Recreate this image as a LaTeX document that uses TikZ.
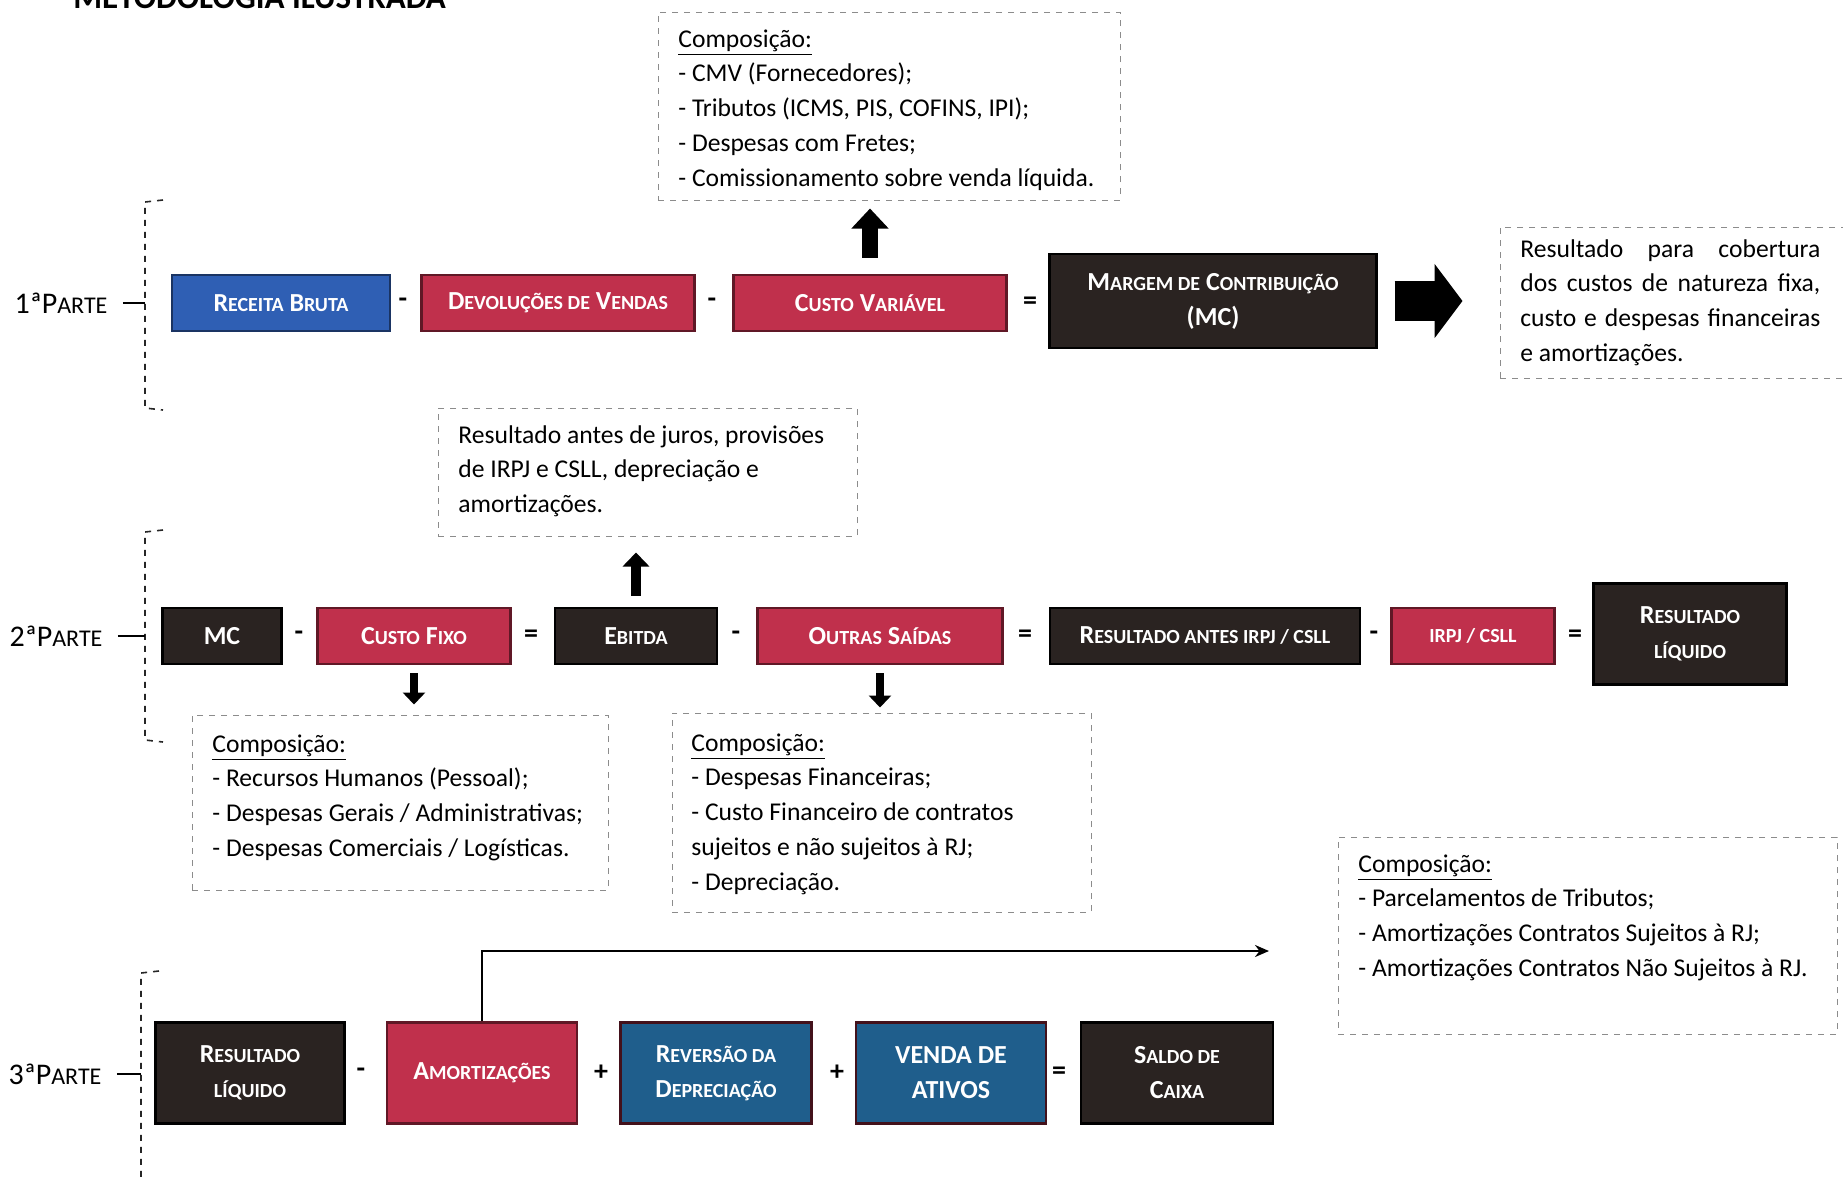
\documentclass[tikz,border=0pt]{standalone}
\usepackage{fontspec}
\setmainfont{Carlito}
\usepackage{relsize}
\usepackage{xcolor}
\usepackage{tikz}
\usetikzlibrary{arrows.meta, positioning}
\definecolor{rbblue}{HTML}{2F5FB4}
\definecolor{crimson}{HTML}{C0304C}
\definecolor{darkbrown}{HTML}{2A2321}
\definecolor{seablue}{HTML}{1F5E8C}
\newcommand{\sm}[1]{{\relscale{0.78}#1}}
\tikzset{
    box/.style={rectangle, draw, line width=1.2pt, text=white, align=center, inner sep=2pt,
        minimum height=28pt, font=\bfseries\fontsize{13}{17.5}\selectfont},
    bluebox/.style={box, fill=rbblue, draw=rbblue!55!black},
    redbox/.style={box, fill=crimson, draw=crimson!50!black},
    darkbox/.style={box, fill=darkbrown, draw=black},
    seabox/.style={box, fill=seablue, draw=crimson!35!black},
    dashbox/.style={rectangle, draw=black!45, dashed, line width=0.5pt, inner sep=0pt},
    txt/.style={anchor=north west, inner sep=0pt, align=left, font=\fontsize{12.8}{17.4}\selectfont},
    part/.style={inner sep=0pt, font=\fontsize{15}{17}\selectfont},
    op/.style={inner sep=0pt, font=\bfseries\fontsize{14}{16}\selectfont},
    bracket/.style={dashed, line width=0.8pt, black!85},
    thinarrow/.style={-{Stealth[length=7pt, width=6pt]}, line width=1.3pt}
}

\begin{document}
\begin{tikzpicture}[x=0.5pt, y=-0.5pt]
    \useasboundingbox (0,0) rectangle (1843,1180);
    \node[anchor=base west, inner sep=0pt, font=\bfseries\fontsize{16.5}{18}\selectfont] (title) at (73,8) {METODOLOGIA ILUSTRADA};

    % 1a parte
    \node[part] (p1) at (61,303) {1ªP\sm{ARTE}};
    \coordinate (b1t) at (145,202);
    \coordinate (b1b) at (145,408);
    \draw[bracket] (163,200) -- (b1t) -- (b1b) -- (163,410);
    \draw[line width=0.8pt, shorten <=7.5pt] (p1.east) -- (b1t |- p1.east);

    \node[bluebox, minimum width=109pt] (rb) at (281,303) {R\sm{ECEITA} B\sm{RUTA}};
    \node[redbox, minimum width=136.5pt] (dv) at (558,303) {D\sm{EVOLUÇÕES DE} V\sm{ENDAS}};
    \node[redbox, minimum width=136.5pt] (cv) at (870,303) {C\sm{USTO} V\sm{ARIÁVEL}};
    \node[darkbox, minimum width=163.5pt, minimum height=47pt] (mc) at (1213,301) {M\sm{ARGEM DE} C\sm{ONTRIBUIÇÃO}\\(MC)};
    \node[op] (o11) at (403,303) {-};
    \node[op] (o12) at (712,303) {-};
    \node[op] (o13) at (1030,303) {=};

    \node[dashbox, minimum width=231pt, minimum height=94pt] (cvbox) at (889,106) {};
    \node[txt] (cvtxt) at (678,29) {\underline{Composição:}\\- CMV (Fornecedores);\\- Tributos (ICMS, PIS, COFINS, IPI);\\- Despesas com Fretes;\\- Comissionamento sobre venda líquida.};
    \draw[line width=8pt, -{Triangle[width=18pt, length=10pt]}, shorten <=8pt, shorten >=4pt] (cv.north) -- (cv.north |- cvbox.south);

    \node[dashbox, minimum width=175pt, minimum height=75.5pt] (mcbox) at (1675,302.5) {};
    \node[txt, align=justify, text width=150pt] (mctxt) at (1520,239) {\hyphenpenalty=10000 Resultado para cobertura\linebreak dos custos de natureza fixa,\linebreak custo e despesas financeiras\linebreak e amortizações.};
    \draw[line width=20pt, -{Triangle[width=36.5pt, length=14pt]}, shorten <=8.5pt, shorten >=18.5pt] (mc.east) -- (mc.east -| mcbox.west);

    % 2a parte
    \node[part] (p2) at (56,636) {2ªP\sm{ARTE}};
    \coordinate (b2t) at (145,532);
    \coordinate (b2b) at (145,740);
    \draw[bracket] (163,530) -- (b2t) -- (b2b) -- (163,742);
    \draw[line width=0.8pt, shorten <=7.5pt] (p2.east) -- (b2t |- p2.east);

    \node[darkbox, minimum width=59.5pt] (mc2) at (222,636) {MC};
    \node[redbox, minimum width=96.5pt] (cf) at (414,636) {C\sm{USTO} F\sm{IXO}};
    \node[darkbox, minimum width=81pt] (eb) at (636,636) {E\sm{BITDA}};
    \node[redbox, minimum width=122.5pt] (os) at (880,636) {O\sm{UTRAS} S\sm{AÍDAS}};
    \node[darkbox, minimum width=155pt] (ra) at (1205,636) {R\sm{ESULTADO ANTES IRPJ / CSLL}};
    \node[redbox, minimum width=81.5pt] (ir) at (1473,636) {\sm{IRPJ / CSLL}};
    \node[darkbox, minimum width=96.5pt, minimum height=50.5pt] (rl) at (1690,634) {R\sm{ESULTADO}\\\sm{LÍQUIDO}};
    \foreach \x/\s [count=\i] in {299/-, 531/=, 736/-, 1025/=, 1374/-, 1575/=}
        \node[op] (o2\i) at (\x,636) {\s};

    \node[dashbox, minimum width=209.5pt, minimum height=64pt] (ebbox) at (647.5,472) {};
    \node[txt] (ebtxt) at (458,425) {Resultado antes de juros, provisões\\de IRPJ e CSLL, depreciação e\\amortizações.};
    \draw[line width=5pt, -{Triangle[width=13pt, length=7pt]}, shorten <=5.5pt, shorten >=8pt] (eb.north) -- (eb.north |- ebbox.south);

    \node[dashbox, minimum width=208pt, minimum height=87.5pt] (cfbox) at (400,802.5) {};
    \node[txt] (cftxt) at (212,734) {\underline{Composição:}\\- Recursos Humanos (Pessoal);\\- Despesas Gerais / Administrativas;\\- Despesas Comerciais / Logísticas.};
    \draw[line width=4pt, -{Triangle[width=11pt, length=6pt]}, shorten <=4pt, shorten >=5pt] (cf.south) -- (cf.south |- cfbox.north);

    \node[dashbox, minimum width=209.5pt, minimum height=99.5pt] (osbox) at (881.5,812.5) {};
    \node[txt] (ostxt) at (691,733) {\underline{Composição:}\\- Despesas Financeiras;\\- Custo Financeiro de contratos\\sujeitos e não sujeitos à RJ;\\- Depreciação.};
    \draw[line width=4pt, -{Triangle[width=11pt, length=6pt]}, shorten <=4pt, shorten >=2.5pt] (os.south) -- (os.south |- osbox.north);

    % 3a parte
    \node[part] (p3) at (55,1074) {3ªP\sm{ARTE}};
    \coordinate (b3t) at (141,973);
    \coordinate (b3b) at (141,1190);
    \draw[bracket] (159,971) -- (b3t) -- (b3b);
    \draw[line width=0.8pt, shorten <=7.5pt] (p3.east) -- (b3t |- p3.east);

    \node[darkbox, minimum width=94.5pt, minimum height=50.5pt] (rl3) at (250,1073) {R\sm{ESULTADO}\\\sm{LÍQUIDO}};
    \node[redbox, minimum width=95pt, minimum height=50.5pt] (am) at (482,1073) {A\sm{MORTIZAÇÕES}};
    \node[seabox, minimum width=95.5pt, minimum height=50.5pt] (rv) at (716,1073) {R\sm{EVERSÃO DA}\\D\sm{EPRECIAÇÃO}};
    \node[seabox, minimum width=95pt, minimum height=50.5pt] (va) at (951,1073) {VENDA DE\\ATIVOS};
    \node[darkbox, minimum width=96pt, minimum height=50.5pt] (sc) at (1177,1073) {S\sm{ALDO DE}\\C\sm{AIXA}};
    \foreach \x/\s [count=\i] in {361/-, 601/+, 837/+, 1059/=}
        \node[op] (o3\i) at (\x,1073) {\s};

    \node[dashbox, minimum width=249.5pt, minimum height=98.5pt] (ambox) at (1587.5,935.5) {};
    \node[txt] (amtxt) at (1358,854) {\underline{Composição:}\\- Parcelamentos de Tributos;\\- Amortizações Contratos Sujeitos à RJ;\\- Amortizações Contratos Não Sujeitos à RJ.};
    \coordinate (amend) at (1269,951);
    \draw[thinarrow] (am.north) |- (amend);
\end{tikzpicture}
\end{document}
